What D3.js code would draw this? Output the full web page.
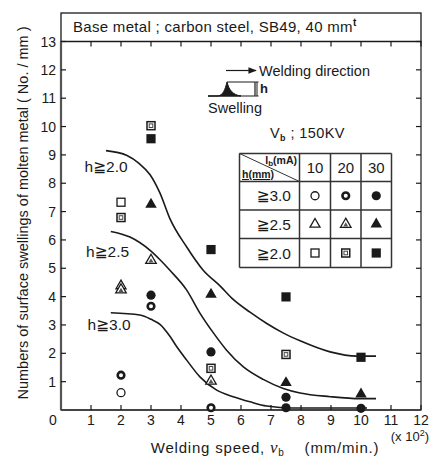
<!DOCTYPE html>
<html>
<head>
<meta charset="utf-8">
<script src="https://cdn.jsdelivr.net/npm/d3@7"></script>
<style>
  body { margin: 0; background: #fff; }
  svg text { font-family: "Liberation Sans", Arial, "DejaVu Sans", sans-serif; fill: #1a1a1a; }
</style>
</head>
<body>
<div id="chart"></div>
<script>
// welding speed (x10^2 mm/min) vs number of swellings (No./mm)
var xTicks = [1, 2, 3, 4, 5, 6, 7, 8, 9, 10, 11, 12];
var yTicks = [1, 2, 3, 4, 5, 6, 7, 8, 9, 10, 11, 12, 13];

// points, one array per marker type (h level, beam current)
var h30_10 = [[2, 0.61]];
var h30_20 = [[2, 1.23], [3, 3.66], [5, 0.08]];
var h30_30 = [[3, 4.05], [5, 2.05], [7.5, 0.45], [7.5, 0.08], [10, 0.06]];
var h25_10 = [[2, 4.38]];
var h25_20 = [[2, 4.24], [3, 5.28], [5, 1.02]];
var h25_30 = [[3, 7.25], [5, 4.08], [7.5, 0.96], [10, 0.56]];
var h20_10 = [[2, 7.33]];
var h20_20 = [[2, 6.79], [3, 10.03], [5, 1.47], [7.5, 1.96]];
var h20_30 = [[3, 9.57], [5, 5.66], [7.5, 3.99], [10, 1.86]];

// hand drawn trend curves
var curveH20 = [[1.5, 9.15], [2.2, 8.98], [2.6, 8.7], [2.97, 8.3], [3.3, 7.65], [3.63, 6.75], [4.19, 5.75],
                [4.74, 4.93], [5.3, 4.38], [5.74, 3.9], [6.3, 3.45], [6.86, 3.05], [7.4, 2.72], [7.97, 2.44],
                [8.97, 2.05], [9.86, 1.9], [10.5, 1.9]];
var curveH25 = [[1.66, 6.3], [2.3, 6.1], [2.97, 5.63], [3.3, 5.3], [3.63, 4.93], [4.19, 4.23], [4.63, 3.42],
                [5.08, 2.72], [5.52, 2.11], [6.08, 1.52], [6.74, 1.08], [7.41, 0.76], [7.97, 0.6],
                [8.97, 0.47], [9.97, 0.4], [10.5, 0.4]];
var curveH30 = [[1.66, 3.43], [2.63, 3.35], [3.0, 3.2], [3.3, 3.02], [3.63, 2.6], [3.86, 2.23], [4.19, 1.76],
                [4.63, 1.17], [5.19, 0.7], [5.74, 0.47], [6.3, 0.29], [6.86, 0.14], [7.3, 0.09], [8, 0.07],
                [10.2, 0.07]];
var curveLabels = ['h\u22672.0', 'h\u22672.5', 'h\u22673.0'];
var curveLabelPos = [[1.5, 8.4], [1.55, 5.4], [1.6, 2.82]];

var legendCols = ['10', '20', '30'];
var legendRows = ['\u22673.0', '\u22672.5', '\u22672.0'];
var legendTypes = [['circleOpen', 'ring', 'circleFill'],
                   ['triOpen', 'triHatch', 'triFill'],
                   ['sqOpen', 'sqDot', 'sqFill']];

var W = 431, H = 461;
var svg = d3.select('#chart').append('svg')
    .attr('width', W)
    .attr('height', H);

var x = d3.scaleLinear().domain([0, 12]).range([61, 421]);
var y = d3.scaleLinear().domain([0, 13]).range([410, 41.5]);

var ink = '#1a1a1a';

// title box
svg.append('rect')
    .attr('x', x(0)).attr('y', 13)
    .attr('width', x(12) - x(0)).attr('height', y(13) - 13)
    .attr('fill', 'none').attr('stroke', ink).attr('stroke-width', 1.3);
var tt = svg.append('text').attr('x', 73).attr('y', 32).attr('font-size', 15).attr('letter-spacing', 0.3);
tt.append('tspan').text('Base metal ; carbon steel,  SB49,  40 mm');
tt.append('tspan').attr('dy', -6).attr('font-size', 10).attr('font-weight', 'bold').text('t');

// plot frame
svg.append('rect')
    .attr('x', x(0)).attr('y', y(13))
    .attr('width', x(12) - x(0)).attr('height', y(0) - y(13))
    .attr('fill', 'none').attr('stroke', ink).attr('stroke-width', 1.2);
svg.append('line')
    .attr('x1', x(0)).attr('x2', x(0)).attr('y1', y(13)).attr('y2', y(0))
    .attr('stroke', '#555').attr('stroke-width', 2.2);
svg.append('line')
    .attr('x1', x(0)).attr('x2', x(12)).attr('y1', y(0)).attr('y2', y(0))
    .attr('stroke', '#444').attr('stroke-width', 2);

// inward ticks on all four sides
var tickLen = 5;
svg.selectAll('.tb').data(xTicks).enter().append('line')
    .attr('x1', function(d) { return x(d); }).attr('x2', function(d) { return x(d); })
    .attr('y1', y(0)).attr('y2', y(0) - tickLen)
    .attr('stroke', ink).attr('stroke-width', 1.2);
svg.selectAll('.tt').data(xTicks).enter().append('line')
    .attr('x1', function(d) { return x(d); }).attr('x2', function(d) { return x(d); })
    .attr('y1', y(13)).attr('y2', y(13) + tickLen)
    .attr('stroke', ink).attr('stroke-width', 1.2);
svg.selectAll('.tl').data(yTicks).enter().append('line')
    .attr('x1', x(0)).attr('x2', x(0) + tickLen)
    .attr('y1', function(d) { return y(d); }).attr('y2', function(d) { return y(d); })
    .attr('stroke', ink).attr('stroke-width', 1.2);
svg.selectAll('.tr').data(yTicks).enter().append('line')
    .attr('x1', x(12)).attr('x2', x(12) - tickLen)
    .attr('y1', function(d) { return y(d); }).attr('y2', function(d) { return y(d); })
    .attr('stroke', ink).attr('stroke-width', 1.2);

// tick labels
svg.selectAll('.xl').data(xTicks).enter().append('text')
    .attr('x', function(d) { return x(d); })
    .attr('y', y(0) + 15)
    .attr('text-anchor', 'middle').attr('font-size', 14)
    .text(function(d) { return d; });
svg.selectAll('.yl').data(yTicks).enter().append('text')
    .attr('x', x(0) - 5)
    .attr('y', function(d) { return y(d) + 5; })
    .attr('text-anchor', 'end').attr('font-size', 14)
    .text(function(d) { return d; });
svg.append('text').attr('x', 53).attr('y', y(0) + 15)
    .attr('text-anchor', 'middle').attr('font-size', 14).text('0');

var xm = svg.append('text').attr('x', 429).attr('y', 441).attr('text-anchor', 'end').attr('font-size', 13);
xm.append('tspan').text('(x 10');
xm.append('tspan').attr('dy', -5).attr('font-size', 9).text('2');
xm.append('tspan').attr('dy', 5).text(')');

// axis titles
var xt = svg.append('text').attr('x', 265).attr('y', 453).attr('text-anchor', 'middle')
    .attr('font-size', 15).attr('letter-spacing', 0.8);
xt.append('tspan').text('Welding speed,  ');
xt.append('tspan').attr('font-style', 'italic').attr('font-family', 'Liberation Serif, serif').attr('font-size', 17).text('v');
xt.append('tspan').attr('dy', 3).attr('font-size', 10).text('b');
xt.append('tspan').attr('dy', -3).attr('xml:space', 'preserve').text('    (mm/min.)');

svg.append('text')
    .attr('transform', 'translate(28,213) rotate(-90)')
    .attr('text-anchor', 'middle').attr('font-size', 14.5)
    .text('Numbers of surface swellings of molten metal ( No. / mm )');

// curves
var line = d3.line()
    .x(function(d) { return x(d[0]); })
    .y(function(d) { return y(d[1]); })
    .curve(d3.curveMonotoneX);
[curveH20, curveH25, curveH30].forEach(function(c) {
    svg.append('path').attr('d', line(c))
        .attr('fill', 'none').attr('stroke', ink).attr('stroke-width', 1.6);
});

// curve labels
svg.selectAll('.cl').data(curveLabels).enter().append('text')
    .attr('x', function(d, i) { return x(curveLabelPos[i][0]); })
    .attr('y', function(d, i) { return y(curveLabelPos[i][1]); })
    .attr('text-anchor', 'middle').attr('font-size', 15.5)
    .text(function(d) { return d; });

// markers
function triPath(s) {
    var a = s * 0.577, b = s * 0.289;
    return 'M0,' + (-a) + 'L' + (s / 2) + ',' + b + 'L' + (-s / 2) + ',' + b + 'Z';
}
function drawMarker(g, type, cx, cy) {
    var m = g.append('g').attr('transform', 'translate(' + cx + ',' + cy + ')');
    if (type === 'circleOpen') {
        m.append('circle').attr('r', 4).attr('fill', '#fff').attr('stroke', ink).attr('stroke-width', 1.3);
    } else if (type === 'ring') {
        m.append('circle').attr('r', 3.3).attr('fill', '#fff').attr('stroke', ink).attr('stroke-width', 2.6);
    } else if (type === 'circleFill') {
        m.append('circle').attr('r', 4.6).attr('fill', ink);
    } else if (type === 'triOpen') {
        m.append('path').attr('d', triPath(10)).attr('fill', '#fff').attr('stroke', ink).attr('stroke-width', 1.3);
    } else if (type === 'triHatch') {
        m.append('path').attr('d', triPath(10.5)).attr('fill', '#fff').attr('stroke', ink).attr('stroke-width', 1.3);
        m.append('path').attr('d', triPath(5)).attr('transform', 'translate(0,0.8)').attr('fill', '#555');
    } else if (type === 'triFill') {
        m.append('path').attr('d', triPath(11.5)).attr('fill', ink);
    } else if (type === 'sqOpen') {
        m.append('rect').attr('x', -4).attr('y', -4).attr('width', 8).attr('height', 8)
            .attr('fill', '#fff').attr('stroke', ink).attr('stroke-width', 1.3);
    } else if (type === 'sqDot') {
        m.append('rect').attr('x', -4).attr('y', -4).attr('width', 8).attr('height', 8)
            .attr('fill', '#fff').attr('stroke', ink).attr('stroke-width', 1.5);
        m.append('rect').attr('x', -1.8).attr('y', -1.8).attr('width', 3.6).attr('height', 3.6)
            .attr('fill', 'none').attr('stroke', '#444').attr('stroke-width', 1);
    } else if (type === 'sqFill') {
        m.append('rect').attr('x', -4.6).attr('y', -4.6).attr('width', 9.2).attr('height', 9.2).attr('fill', ink);
    }
}

var series = [[h30_10, 'circleOpen'], [h30_20, 'ring'], [h30_30, 'circleFill'],
              [h25_10, 'triOpen'], [h25_20, 'triHatch'], [h25_30, 'triFill'],
              [h20_10, 'sqOpen'], [h20_20, 'sqDot'], [h20_30, 'sqFill']];
var pts = svg.append('g');
series.forEach(function(s) {
    s[0].forEach(function(p) { drawMarker(pts, s[1], x(p[0]), y(p[1])); });
});

// welding direction sketch
var defs = svg.append('defs');
defs.append('marker').attr('id', 'arr').attr('viewBox', '0 0 10 10')
    .attr('refX', 9).attr('refY', 5).attr('markerWidth', 7).attr('markerHeight', 7)
    .attr('orient', 'auto')
    .append('path').attr('d', 'M0,1L10,5L0,9Z').attr('fill', ink);
svg.append('line').attr('x1', 226).attr('x2', 256).attr('y1', 70.5).attr('y2', 70.5)
    .attr('stroke', ink).attr('stroke-width', 1.2).attr('marker-end', 'url(#arr)');
svg.append('text').attr('x', 259).attr('y', 75.5).attr('font-size', 14.5).text('Welding direction');
svg.append('path')
    .attr('d', 'M208,96L218,96C223,95 225,90 227,82C229,90 233,95 241,96Z')
    .attr('fill', ink).attr('stroke', ink).attr('stroke-width', 1);
svg.append('path').attr('d', 'M208,96L255,96L255,82L227,82')
    .attr('fill', 'none').attr('stroke', ink).attr('stroke-width', 1.2);
svg.append('path').attr('d', 'M257,82L257,96M255.5,82L258.5,82M255.5,96L258.5,96')
    .attr('fill', 'none').attr('stroke', ink).attr('stroke-width', 1);
svg.append('text').attr('x', 260).attr('y', 93).attr('font-size', 13).attr('font-weight', 'bold').text('h');
svg.append('text').attr('x', 208).attr('y', 113).attr('font-size', 14.5).text('Swelling');

var vb = svg.append('text').attr('x', 270).attr('y', 138).attr('font-size', 14.5).attr('letter-spacing', 0.4);
vb.append('tspan').text('V');
vb.append('tspan').attr('dy', 3).attr('font-size', 9).attr('font-weight', 'bold').text('b');
vb.append('tspan').attr('dy', -3).text(' ; 150KV');

// legend table
var colX = [239.5, 299.5, 330.5, 361, 391.5];
var rowY = [153.5, 181.5, 210, 238.5, 267.5];
var tbl = svg.append('g').attr('stroke', '#333').attr('stroke-width', 1.5);
colX.forEach(function(cx) {
    tbl.append('line').attr('x1', cx).attr('x2', cx).attr('y1', rowY[0]).attr('y2', rowY[4]);
});
rowY.forEach(function(ry) {
    tbl.append('line').attr('x1', colX[0]).attr('x2', colX[4]).attr('y1', ry).attr('y2', ry);
});
tbl.append('line').attr('x1', colX[0]).attr('y1', rowY[0]).attr('x2', colX[1]).attr('y2', rowY[1]).attr('stroke-width', 1);

var ib = svg.append('text').attr('x', 297).attr('y', 164).attr('text-anchor', 'end')
    .attr('font-size', 10.5).attr('font-weight', 'bold');
ib.append('tspan').text('I');
ib.append('tspan').attr('dy', 2).attr('font-size', 8).text('b');
ib.append('tspan').attr('dy', -2).text('(mA)');
svg.append('text').attr('x', 242).attr('y', 178).attr('font-size', 10.5).attr('font-weight', 'bold')
    .attr('text-decoration', 'underline').text('h(mm)');

legendCols.forEach(function(c, i) {
    svg.append('text').attr('x', (colX[i + 1] + colX[i + 2]) / 2).attr('y', rowY[1] - 9)
        .attr('text-anchor', 'middle').attr('font-size', 15).text(c);
});
legendRows.forEach(function(r, j) {
    var cy = (rowY[j + 1] + rowY[j + 2]) / 2;
    svg.append('text').attr('x', 291).attr('y', cy + 5.5)
        .attr('text-anchor', 'end').attr('font-size', 15.5).text(r);
    legendTypes[j].forEach(function(t, i) {
        drawMarker(svg, t, (colX[i + 1] + colX[i + 2]) / 2, cy);
    });
});
</script>
</body>
</html>
